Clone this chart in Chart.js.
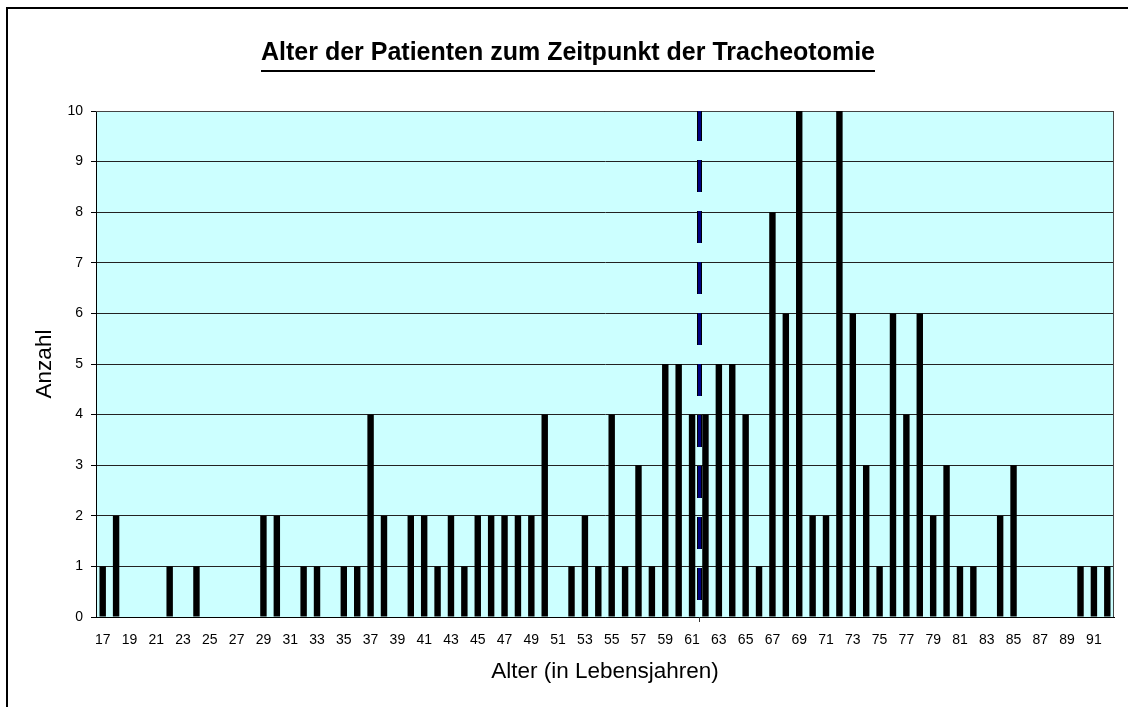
<!DOCTYPE html>
<html>
<head>
<meta charset="utf-8">
<script src="https://cdn.jsdelivr.net/npm/chart.js@4/dist/chart.umd.min.js"></script>
<style>
  html, body { margin: 0; padding: 0; background: #fff; overflow: hidden; }
  #frame {
    position: absolute; left: 6px; top: 7px;
    width: 1120px; height: 698px;
    border-left: 2px solid #000; border-top: 2px solid #000;
  }
</style>
</head>
<body>
<div id="frame"><canvas id="chartAge"></canvas></div>
<script>
var ages = [17, 18, 19, 20, 21, 22, 23, 24, 25, 26, 27, 28, 29, 30, 31, 32, 33, 34, 35, 36,
  37, 38, 39, 40, 41, 42, 43, 44, 45, 46, 47, 48, 49, 50, 51, 52, 53, 54, 55, 56,
  57, 58, 59, 60, 61, 62, 63, 64, 65, 66, 67, 68, 69, 70, 71, 72, 73, 74, 75, 76,
  77, 78, 79, 80, 81, 82, 83, 84, 85, 86, 87, 88, 89, 90, 91, 92];
var counts = [1, 2, 0, 0, 0, 1, 0, 1, 0, 0, 0, 0, 2, 2, 0, 1, 1, 0, 1, 1,
  4, 2, 0, 2, 2, 1, 2, 1, 2, 2, 2, 2, 2, 4, 0, 1, 2, 1, 4, 1,
  3, 1, 5, 5, 4, 4, 5, 5, 4, 1, 8, 6, 10, 2, 2, 10, 6, 3, 1, 6,
  4, 6, 2, 3, 1, 1, 0, 2, 3, 0, 0, 0, 0, 1, 1, 1];
var meanAge = 61.5;
var yTicks = [0, 1, 2, 3, 4, 5, 6, 7, 8, 9, 10];

var FONT = '"Liberation Sans", Arial, sans-serif';

// light cyan plot area, thin border on top / right
var plotArea = {
  id: 'plotArea',
  beforeDraw: function (chart) {
    var a = chart.chartArea, ctx = chart.ctx;
    ctx.save();
    ctx.fillStyle = '#CCFFFF';
    ctx.fillRect(a.left, a.top, a.right - a.left, a.bottom - a.top);
    ctx.restore();
  },
  beforeDatasetsDraw: function (chart) {
    var a = chart.chartArea, ctx = chart.ctx;
    ctx.save();
    ctx.strokeStyle = '#444';
    ctx.lineWidth = 1;
    ctx.beginPath();
    ctx.moveTo(a.left, a.top + 0.5);
    ctx.lineTo(a.right - 0.5, a.top + 0.5);
    ctx.lineTo(a.right - 0.5, a.bottom);
    ctx.stroke();
    ctx.restore();
  }
};

// dashed mean-age line; category index of the mean taken through the x scale
var meanLine = {
  id: 'meanLine',
  afterDatasetsDraw: function (chart) {
    var x = chart.scales.x, y = chart.scales.y, ctx = chart.ctx;
    var px = Math.round(x.getPixelForValue(meanAge - ages[0])) + 0.5;
    var top = y.getPixelForValue(yTicks[yTicks.length - 1]);
    var bottom = y.getPixelForValue(0);
    ctx.save();
    ctx.setLineDash([32, 19]);
    ctx.lineDashOffset = 2;
    ctx.lineCap = 'butt';
    ctx.strokeStyle = '#000';
    ctx.lineWidth = 5;
    ctx.beginPath(); ctx.moveTo(px, top); ctx.lineTo(px, bottom - 8); ctx.stroke();
    ctx.strokeStyle = '#000080';
    ctx.lineWidth = 3;
    ctx.beginPath(); ctx.moveTo(px, top); ctx.lineTo(px, bottom - 8); ctx.stroke();
    ctx.setLineDash([]);
    ctx.strokeStyle = '#333';
    ctx.lineWidth = 1;
    ctx.beginPath(); ctx.moveTo(px, bottom); ctx.lineTo(px, bottom + 5); ctx.stroke();
    ctx.restore();
  }
};

// underline under the chart title
var titleLine = {
  id: 'titleLine',
  afterDraw: function (chart) {
    var tb = chart.titleBlock;
    if (!tb) return;
    var ctx = chart.ctx, opts = tb.options;
    ctx.save();
    ctx.font = 'bold ' + opts.font.size + 'px ' + FONT;
    var w = ctx.measureText(opts.text).width;
    var cx = (tb.left + tb.right) / 2;
    var y = tb.top + opts.padding.top + opts.font.size * 1.2 / 2 + 17;
    ctx.fillStyle = '#000';
    ctx.fillRect(cx - w / 2, y, w, 2);
    ctx.restore();
  }
};

new Chart(document.getElementById('chartAge').getContext('2d'), {
  type: 'bar',
  data: {
    labels: ages.map(String),
    datasets: [{
      label: 'Anzahl',
      data: counts,
      backgroundColor: '#000',
      barPercentage: 0.48,
      categoryPercentage: 1
    }]
  },
  options: {
    responsive: true,
    maintainAspectRatio: false,
    animation: false,
    layout: { padding: 0 },
    plugins: {
      legend: { display: false },
      tooltip: { enabled: false },
      title: {
        display: true,
        text: 'Alter der Patienten zum Zeitpunkt der Tracheotomie',
        color: '#000',
        font: { family: FONT, size: 25, weight: 'bold' },
        padding: { top: 29, bottom: 43 }
      }
    },
    scales: {
      x: {
        type: 'category',
        offset: true,
        grid: { display: false, drawTicks: false },
        border: { display: true, color: '#000', width: 1 },
        ticks: {
          autoSkip: false,
          maxRotation: 0,
          padding: 15,
          color: '#000',
          font: { family: FONT, size: 14 },
          callback: function (v, i) { return i % 2 === 0 ? ages[i] : ''; }
        },
        title: {
          display: true,
          text: 'Alter (in Lebensjahren)',
          color: '#000',
          font: { family: FONT, size: 22.5 },
          padding: { top: 0, bottom: 21.5 }
        },
        afterFit: function (s) { s.height = 90; }
      },
      y: {
        min: yTicks[0],
        max: yTicks[yTicks.length - 1],
        afterBuildTicks: function (s) { s.ticks = yTicks.map(function (v) { return { value: v }; }); },
        grid: { color: '#222', lineWidth: 1, tickLength: 5, tickColor: '#000' },
        border: { display: true, color: '#000', width: 1 },
        ticks: {
          padding: 8,
          color: '#000',
          font: { family: FONT, size: 14 }
        },
        title: {
          display: true,
          text: 'Anzahl',
          color: '#000',
          font: { family: FONT, size: 22.5 },
          padding: { top: 23.5, bottom: 0 }
        },
        afterFit: function (s) { s.width = 88; }
      },
      // empty right-hand axis that only keeps a small margin beside the plot
      yRight: {
        position: 'right',
        min: yTicks[0],
        max: yTicks[yTicks.length - 1],
        grid: { display: false, drawTicks: false },
        border: { display: false },
        ticks: { display: false },
        afterFit: function (s) { s.width = 14; }
      }
    }
  },
  plugins: [plotArea, meanLine, titleLine]
});
</script>
</body>
</html>
